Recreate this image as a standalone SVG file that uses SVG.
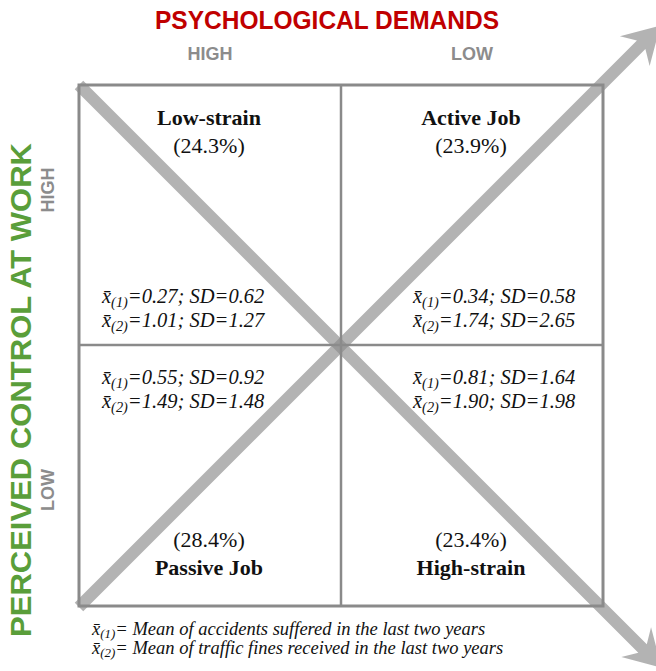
<svg xmlns="http://www.w3.org/2000/svg" width="656" height="671" viewBox="0 0 656 671">
  <style>
    .axis-title { font-family: "Liberation Sans", Arial, sans-serif; font-weight: bold; }
    .title-red { fill: #c00000; font-size: 25px; }
    .title-green { fill: #5a9e3a; font-size: 30px; }
    .level { font-family: "Liberation Sans", Arial, sans-serif; font-weight: bold; font-size: 18px; fill: #8c8c8c; }
    .name { font-family: "Liberation Serif", "Times New Roman", serif; font-weight: bold; font-size: 22px; fill: #111; }
    .pct { font-family: "Liberation Serif", "Times New Roman", serif; font-size: 22px; fill: #111; }
    .stat { font-family: "Liberation Serif", "Times New Roman", serif; font-style: italic; font-size: 20.5px; fill: #111; }
    .note { font-family: "Liberation Serif", "Times New Roman", serif; font-style: italic; font-size: 18.5px; fill: #111; }
    .sub { font-size: 70%; }
    .frame { fill: none; stroke: #8a8a8a; stroke-width: 3; }
    .divider { stroke: #8a8a8a; stroke-width: 2.5; }
    .band { fill: #8c8c8c; fill-opacity: 0.66; }
  </style>

  <!-- axis headings -->
  <g id="axis-demands">
    <text class="axis-title title-red" x="327" y="29" text-anchor="middle" textLength="344" lengthAdjust="spacingAndGlyphs">PSYCHOLOGICAL DEMANDS</text>
    <text class="level" x="210" y="60" text-anchor="middle">HIGH</text>
    <text class="level" x="472" y="60" text-anchor="middle">LOW</text>
  </g>
  <g id="axis-control">
    <text class="axis-title title-green" transform="translate(31,390) rotate(-90)" text-anchor="middle" textLength="494" lengthAdjust="spacingAndGlyphs">PERCEIVED CONTROL AT WORK</text>
    <text class="level" transform="translate(54,190) rotate(-90)" text-anchor="middle">HIGH</text>
    <text class="level" transform="translate(54,490) rotate(-90)" text-anchor="middle">LOW</text>
  </g>

  <!-- 2x2 grid -->
  <g id="grid">
    <rect class="frame" x="79" y="85" width="524" height="521"/>
    <line class="divider" x1="341" y1="85" x2="341" y2="606"/>
    <line class="divider" x1="79" y1="345" x2="603" y2="345"/>
  </g>

  <!-- diagonal arrows -->
  <g id="connectors">
    <polygon class="band" transform="translate(79,607) rotate(-45)" points="0,-6 795,-6 786,-21 822,0 786,21 795,6 0,6"/>
    <polygon class="band" transform="translate(79,85) rotate(45)" points="0,-6 797,-6 788,-21 824,0 788,21 797,6 0,6"/>
  </g>

  <!-- quadrants -->
  <g id="low-strain">
    <text class="name" x="209" y="125" text-anchor="middle">Low-strain</text>
    <text class="pct" x="209" y="153" text-anchor="middle">(24.3%)</text>
    <text class="stat" x="102" y="303">x̄<tspan class="sub" dy="4">(1)</tspan><tspan dy="-4">=0.27; SD=0.62</tspan></text>
    <text class="stat" x="102" y="327">x̄<tspan class="sub" dy="4">(2)</tspan><tspan dy="-4">=1.01; SD=1.27</tspan></text>
  </g>
  <g id="active-job">
    <text class="name" x="471" y="125" text-anchor="middle">Active Job</text>
    <text class="pct" x="471" y="153" text-anchor="middle">(23.9%)</text>
    <text class="stat" x="413" y="303">x̄<tspan class="sub" dy="4">(1)</tspan><tspan dy="-4">=0.34; SD=0.58</tspan></text>
    <text class="stat" x="413" y="327">x̄<tspan class="sub" dy="4">(2)</tspan><tspan dy="-4">=1.74; SD=2.65</tspan></text>
  </g>
  <g id="passive-job">
    <text class="stat" x="102" y="384">x̄<tspan class="sub" dy="4">(1)</tspan><tspan dy="-4">=0.55; SD=0.92</tspan></text>
    <text class="stat" x="102" y="408">x̄<tspan class="sub" dy="4">(2)</tspan><tspan dy="-4">=1.49; SD=1.48</tspan></text>
    <text class="pct" x="209" y="547" text-anchor="middle">(28.4%)</text>
    <text class="name" x="209" y="575" text-anchor="middle">Passive Job</text>
  </g>
  <g id="high-strain">
    <text class="stat" x="413" y="384">x̄<tspan class="sub" dy="4">(1)</tspan><tspan dy="-4">=0.81; SD=1.64</tspan></text>
    <text class="stat" x="413" y="408">x̄<tspan class="sub" dy="4">(2)</tspan><tspan dy="-4">=1.90; SD=1.98</tspan></text>
    <text class="pct" x="471" y="547" text-anchor="middle">(23.4%)</text>
    <text class="name" x="471" y="575" text-anchor="middle">High-strain</text>
  </g>

  <!-- legend -->
  <g id="legend">
    <text class="note" x="92" y="635">x̄<tspan class="sub" dy="3">(1)</tspan><tspan dy="-3">= Mean of accidents suffered in the last two years</tspan></text>
    <text class="note" x="92" y="654">x̄<tspan class="sub" dy="3">(2)</tspan><tspan dy="-3">= Mean of traffic fines received in the last two years</tspan></text>
  </g>
</svg>
